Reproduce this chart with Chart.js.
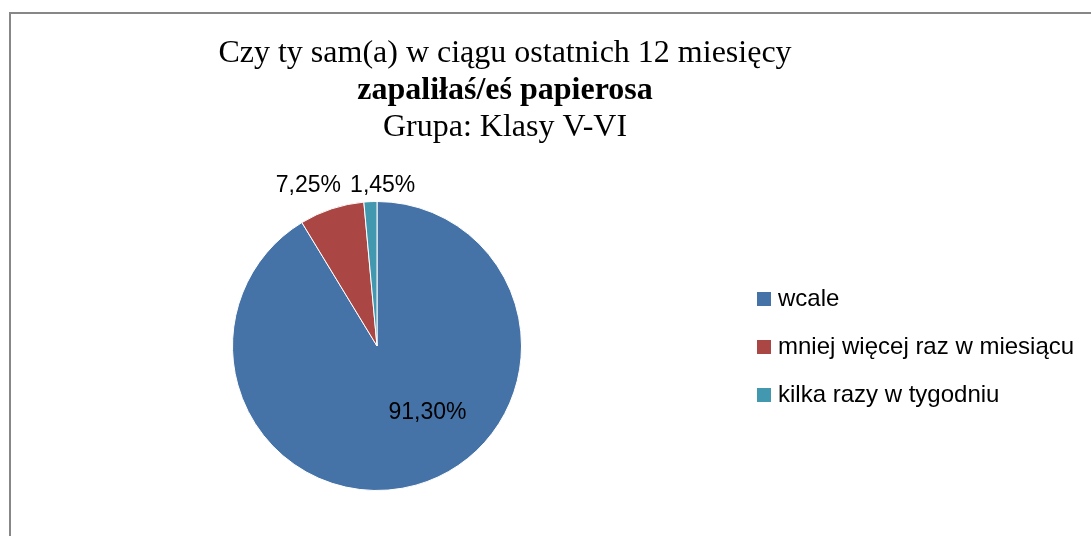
<!DOCTYPE html>
<html>
<head>
<meta charset="utf-8">
<script src="https://cdn.jsdelivr.net/npm/chart.js@4/dist/chart.umd.min.js"></script>
<style>
  html, body { margin: 0; padding: 0; background: #ffffff; }
  #c { display: block; }
</style>
</head>
<body>
<canvas id="c" width="1091" height="536"></canvas>
<script>
// ---- data ----
const categories = ["wcale", "mniej więcej raz w miesiącu", "kilka razy w tygodniu"];
const values = [91.30, 7.25, 1.45];
const titleLines = ["Czy ty sam(a) w ciągu ostatnich 12 miesięcy", "zapaliłaś/eś papierosa", "Grupa: Klasy V-VI"];

// ---- style ----
const colors = ["#4572A7", "#AA4643", "#4198AF"];
const labelOffsets = [[31, -5], [-46, -93], [9, -90]];
const labelFont = "23px 'Liberation Sans', Arial, sans-serif";
const legendFont = "24px 'Liberation Sans', Arial, sans-serif";

function fmtPct(v) { return v.toFixed(2).replace('.', ',') + '%'; }

const decor = {
  id: 'decor',
  beforeDraw(chart) {
    const ctx = chart.ctx;
    ctx.save();
    ctx.fillStyle = '#ffffff';
    ctx.fillRect(0, 0, chart.width, chart.height);
    ctx.strokeStyle = '#878787';
    ctx.lineWidth = 2;
    ctx.beginPath();
    ctx.moveTo(10, chart.height + 5);
    ctx.lineTo(10, 13);
    ctx.lineTo(chart.width + 5, 13);
    ctx.stroke();
    ctx.restore();
  },
  afterDraw(chart) {
    const ctx = chart.ctx;
    ctx.save();
    // title
    ctx.fillStyle = '#000000';
    ctx.textAlign = 'center';
    ctx.textBaseline = 'alphabetic';
    const tx = 505;
    const baselines = [62, 99, 136];
    titleLines.forEach((t, i) => {
      ctx.font = (i === 1 ? 'bold ' : '') + "32px 'Liberation Serif', 'Times New Roman', serif";
      ctx.fillText(t, tx, baselines[i]);
    });
    // data labels
    const meta = chart.getDatasetMeta(0);
    ctx.font = labelFont;
    ctx.textAlign = 'center';
    meta.data.forEach((arc, i) => {
      const p = arc.tooltipPosition();
      const x = p.x + labelOffsets[i][0];
      const y = p.y + labelOffsets[i][1];
      ctx.fillText(fmtPct(chart.data.datasets[0].data[i]), x, y + 8);
    });
    // legend
    const cy = meta.data[0].y;
    const n = chart.data.labels.length;
    chart.data.labels.forEach((lab, i) => {
      const y = cy + (i - (n - 1) / 2) * 48;
      ctx.fillStyle = chart.data.datasets[0].backgroundColor[i];
      ctx.fillRect(757, y - 6, 14, 14);
      ctx.fillStyle = '#000000';
      ctx.textAlign = 'left';
      ctx.font = legendFont;
      ctx.fillText(lab, 778, y + 8);
    });
    ctx.restore();
  }
};

new Chart(document.getElementById('c'), {
  type: 'pie',
  data: {
    labels: categories,
    datasets: [{
      data: values,
      backgroundColor: colors,
      borderColor: '#ffffff',
      borderWidth: 1
    }]
  },
  options: {
    responsive: false,
    animation: false,
    layout: { padding: { left: 232, right: 569, top: 201, bottom: 45 } },
    plugins: {
      legend: { display: false },
      title: { display: false },
      tooltip: { enabled: false }
    }
  },
  plugins: [decor]
});
</script>
</body>
</html>
